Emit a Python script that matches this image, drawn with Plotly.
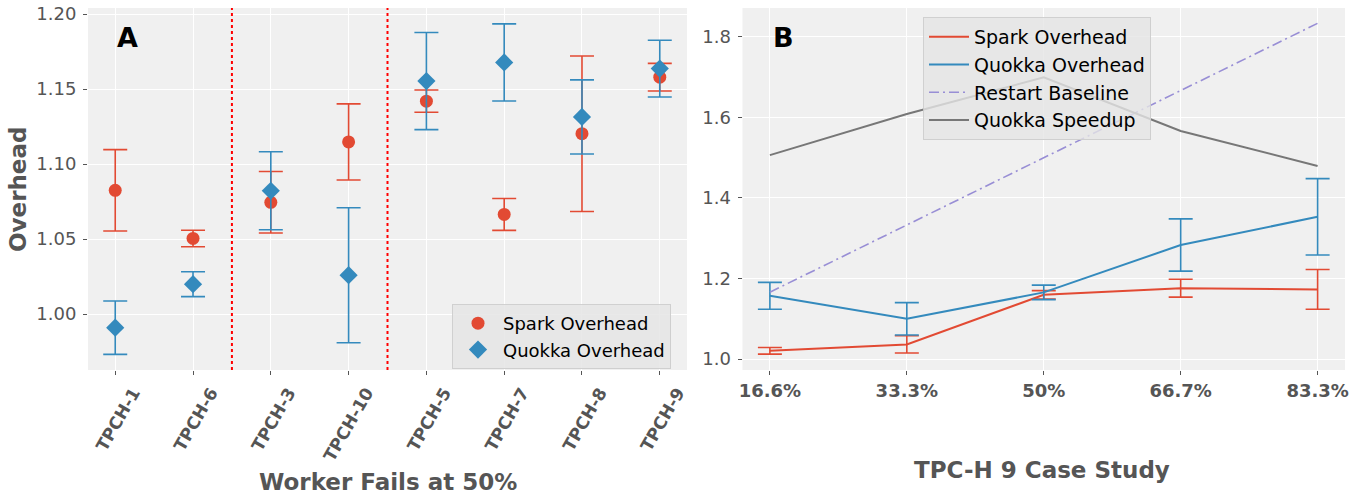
import plotly.graph_objects as go

# ---------------- Panel A data ----------------
queries = ["TPCH-1", "TPCH-6", "TPCH-3", "TPCH-10", "TPCH-5", "TPCH-7", "TPCH-8", "TPCH-9"]
spark_a = [1.0825, 1.0504, 1.0745, 1.1147, 1.1419, 1.0664, 1.1202, 1.1579]
spark_a_err = [0.0271, 0.0055, 0.0205, 0.0254, 0.0074, 0.0106, 0.0518, 0.0092]
quokka_a = [0.9909, 1.0199, 1.0822, 1.0259, 1.1553, 1.1677, 1.1314, 1.1636]
quokka_a_err = [0.0178, 0.0083, 0.0260, 0.0450, 0.0324, 0.0257, 0.0247, 0.0189]
group_dividers = [1.5, 3.5]

# ---------------- Panel B data ----------------
fail_points = ["16.6%", "33.3%", "50%", "66.7%", "83.3%"]
spark_b = [1.0206, 1.0365, 1.1596, 1.1760, 1.1730]
spark_b_err = [0.0082, 0.0215, 0.0103, 0.0223, 0.0493]
quokka_b = [1.1570, 1.1000, 1.1655, 1.2830, 1.3530]
quokka_b_err = [0.0333, 0.0402, 0.0180, 0.0648, 0.0948]
restart_baseline = [1.166, 1.333, 1.500, 1.667, 1.833]
quokka_speedup = [1.506, 1.608, 1.699, 1.566, 1.479]

RED = "#E24A33"
BLUE = "#348ABD"
PURPLE = "#988ED5"
GRAY = "#777777"
BG = "#F0F0F0"
TXT = "#555555"
W, H = 1361, 494

fig = go.Figure()

# Panel A
fig.add_trace(go.Scatter(
    x=queries, y=spark_a, mode="markers", name="Spark Overhead",
    marker=dict(symbol="circle", size=13, color=RED),
    error_y=dict(type="data", array=spark_a_err, color=RED, thickness=1.6, width=12),
    xaxis="x", yaxis="y", legend="legend"))
fig.add_trace(go.Scatter(
    x=queries, y=quokka_a, mode="markers", name="Quokka Overhead",
    marker=dict(symbol="diamond", size=14, color=BLUE),
    error_y=dict(type="data", array=quokka_a_err, color=BLUE, thickness=1.6, width=12),
    xaxis="x", yaxis="y", legend="legend"))

# Panel B
fig.add_trace(go.Scatter(
    x=fail_points, y=spark_b, mode="lines", name="Spark Overhead",
    line=dict(color=RED, width=2),
    error_y=dict(type="data", array=spark_b_err, color=RED, thickness=1.6, width=12),
    xaxis="x2", yaxis="y2", legend="legend2"))
fig.add_trace(go.Scatter(
    x=fail_points, y=quokka_b, mode="lines", name="Quokka Overhead",
    line=dict(color=BLUE, width=2),
    error_y=dict(type="data", array=quokka_b_err, color=BLUE, thickness=1.6, width=12),
    xaxis="x2", yaxis="y2", legend="legend2"))
fig.add_trace(go.Scatter(
    x=fail_points, y=restart_baseline, mode="lines", name="Restart Baseline",
    line=dict(color=PURPLE, width=1.6, dash="10px,4px,2px,4px"),
    xaxis="x2", yaxis="y2", legend="legend2"))
fig.add_trace(go.Scatter(
    x=fail_points, y=quokka_speedup, mode="lines", name="Quokka Speedup",
    line=dict(color=GRAY, width=2),
    xaxis="x2", yaxis="y2", legend="legend2"))

for xd in group_dividers:
    fig.add_shape(type="line", xref="x", yref="y domain", x0=xd, x1=xd, y0=0, y1=1,
                  line=dict(color="red", width=2, dash="dot"))

ydom = [1 - 370 / H, 1 - 8 / H]
axis_common = dict(showgrid=True, gridcolor="white", gridwidth=1.2, zeroline=False,
                   showline=False, ticks="outside", ticklen=4, tickcolor=TXT,
                   automargin=False)
ytick_font = dict(family="DejaVu Sans", size=18, color=TXT)

fig.update_layout(
    width=W, height=H, autosize=False,
    margin=dict(l=0, r=0, t=0, b=0),
    paper_bgcolor="white", plot_bgcolor=BG,
    font=dict(family="DejaVu Sans", color=TXT),
    xaxis=dict(domain=[88 / W, 687 / W], type="category", range=[-0.35, 7.35],
               anchor="y", tickangle=-60, ticklabelshift=18, ticklabelstandoff=1,
               **axis_common,
               tickfont=dict(family="DejaVu Sans", size=17, color=TXT, weight="bold")),
    yaxis=dict(domain=ydom, range=[0.9627, 1.204], anchor="x",
               tickvals=[1.00, 1.05, 1.10, 1.15, 1.20], tickformat=".2f",
               ticklabelstandoff=3, tickfont=ytick_font, **axis_common),
    xaxis2=dict(domain=[742.5 / W, 1345 / W], type="category", range=[-0.2, 4.2],
                anchor="y2", **axis_common,
                tickfont=dict(family="DejaVu Sans", size=18, color=TXT, weight="bold")),
    yaxis2=dict(domain=ydom, range=[0.973, 1.871], anchor="x2",
                tickvals=[1.0, 1.2, 1.4, 1.6, 1.8], tickformat=".1f",
                ticklabelstandoff=3, tickfont=ytick_font, **axis_common),
    legend=dict(x=452 / W, y=1 - 304 / H, xanchor="left", yanchor="top",
                bgcolor="rgba(229,229,229,0.85)", bordercolor="rgba(204,204,204,0.9)",
                borderwidth=1, font=dict(family="DejaVu Sans", size=18, color="black"),
                itemwidth=40, tracegroupgap=0),
    legend2=dict(x=923 / W, y=1 - 17 / H, xanchor="left", yanchor="top",
                 bgcolor="rgba(229,229,229,0.8)", bordercolor="rgba(204,204,204,0.9)",
                 borderwidth=1, font=dict(family="DejaVu Sans", size=19, color="black"),
                 itemwidth=40, tracegroupgap=0),
    showlegend=True,
)

# Axis titles and panel letters
def label(text, x, y, size, color, angle=0):
    fig.add_annotation(text=text, xref="paper", yref="paper", x=x / W, y=1 - y / H,
                       xanchor="center", yanchor="middle", textangle=angle,
                       showarrow=False, font=dict(family="DejaVu Sans", size=size, color=color))

label("<b>Overhead</b>", 18, 190, 23, TXT, angle=-90)
label("<b>Worker Fails at 50%</b>", 388, 482, 23, TXT)
label("<b>TPC-H 9 Case Study</b>", 1042, 470, 23, TXT)
label("<b>A</b>", 128, 38, 27, "black")
label("<b>B</b>", 783, 38, 27, "black")

# remove the browser's default page margin so the figure sits at the window origin
fig.write_html("out.html", config={"displayModeBar": False},
               post_script="document.body.style.margin='0';")
